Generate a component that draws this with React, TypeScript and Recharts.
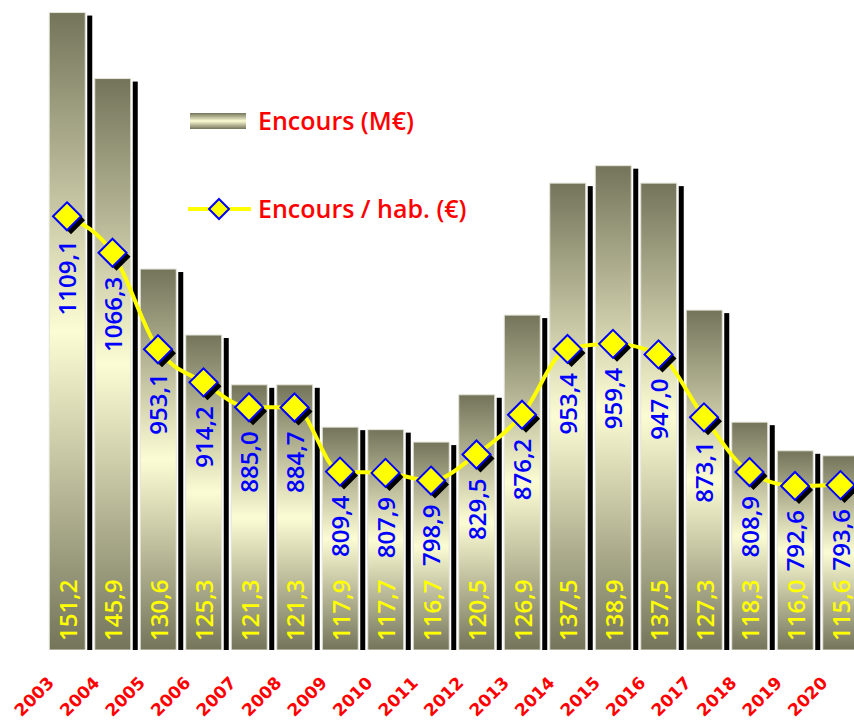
import { Bar, ComposedChart, LabelList, Line, XAxis, YAxis } from "recharts";

const years = [
  "2003", "2004", "2005", "2006", "2007", "2008", "2009", "2010", "2011",
  "2012", "2013", "2014", "2015", "2016", "2017", "2018", "2019", "2020"
];

// Encours de la dette (M€)
const encours = [
  151.2, 145.9, 130.6, 125.3, 121.3, 121.3, 117.9, 117.7, 116.7,
  120.5, 126.9, 137.5, 138.9, 137.5, 127.3, 118.3, 116.0, 115.6
];

// Encours par habitant (€)
const parHab = [
  1109.1, 1066.3, 953.1, 914.2, 885.0, 884.7, 809.4, 807.9, 798.9,
  829.5, 876.2, 953.4, 959.4, 947.0, 873.1, 808.9, 792.6, 793.6
];

const data = years.map((year, i) => ({ year, encours: encours[i], parHab: parHab[i] }));

const fmt = (v: number) => v.toFixed(1).replace(".", ",");

const numFont = "'Open Sans', 'DejaVu Sans', sans-serif";

function ShadowBar(props: any) {
  const { x, y, width, height } = props;
  if (!height || height <= 0) return null;
  return (
    <g>
      <rect x={x + width + 2} y={y + 3} width={5} height={height} fill="#000" />
      <rect x={x + 3} y={y + height + 1} width={width + 1} height={3} fill="#8c8c8c" />
      <rect x={x} y={y} width={width} height={height} fill="url(#barGrad)" stroke="#e4e4d8" strokeWidth={1} />
    </g>
  );
}

function diamondPath(cx: number, cy: number, r: number) {
  return `M${cx},${cy - r} L${cx + r},${cy} L${cx},${cy + r} L${cx - r},${cy} Z`;
}

function DiamondDot(props: any) {
  const { cx, cy } = props;
  if (cx == null || cy == null) return null;
  return (
    <g>
      <path d={diamondPath(cx + 4, cy + 4, 14)} fill="#000" />
      <path d={diamondPath(cx, cy, 14)} fill="#ffff00" stroke="#0000ff" strokeWidth={2} />
    </g>
  );
}

function BarValue(props: any) {
  const { x, y, width, height, value } = props;
  const cx = x + width / 2;
  const ty = y + height - 9;
  return (
    <text
      x={cx}
      y={ty}
      transform={`rotate(-90, ${cx}, ${ty})`}
      textAnchor="start"
      dominantBaseline="central"
      fill="#ffff00"
      fontSize={24}
      fontWeight={600}
      fontFamily={numFont}
    >
      {fmt(value)}
    </text>
  );
}

function LineValue(props: any) {
  const { x, y, value } = props;
  const ty = y + 24;
  return (
    <text
      x={x}
      y={ty}
      transform={`rotate(-90, ${x}, ${ty})`}
      textAnchor="end"
      dominantBaseline="central"
      fill="#0000ff"
      fontSize={24}
      fontWeight={600}
      fontFamily={numFont}
    >
      {fmt(value)}
    </text>
  );
}

function YearTick(props: any) {
  const { x, payload } = props;
  const tx = x - 12;
  const ty = 684;
  return (
    <text
      x={tx}
      y={ty}
      transform={`rotate(-45, ${tx}, ${ty})`}
      textAnchor="end"
      fill="#ff0000"
      fontSize={17}
      fontWeight="bold"
      fontFamily="'DejaVu Sans', sans-serif"
    >
      {payload.value}
    </text>
  );
}

function LegendBox() {
  const legendFont = "'Open Sans', sans-serif";
  return (
    <svg width={320} height={140} style={{ position: "absolute", left: 180, top: 95 }}>
      <rect x={10} y={18} width={56} height={16} fill="url(#barGrad)" />
      <text x={78} y={35} fill="#ff0000" fontSize={25} fontWeight={600} fontFamily={legendFont}>
        Encours (M€)
      </text>
      <line x1={8} y1={114} x2={71} y2={114} stroke="#ffff00" strokeWidth={4} />
      <path d={diamondPath(39, 114, 10)} fill="#ffff00" stroke="#0000ff" strokeWidth={2} />
      <text x={78} y={123} fill="#ff0000" fontSize={25} fontWeight={600} fontFamily={legendFont}>
        Encours / hab. (€)
      </text>
    </svg>
  );
}

export default function App() {
  return (
    <div
      style={{
        position: "fixed",
        left: 0,
        top: 0,
        width: 854,
        height: 724,
        overflow: "hidden",
        background: "#fff"
      }}
    >
      <svg width={0} height={0} style={{ position: "absolute" }}>
        <defs>
          <linearGradient id="barGrad" x1="0" y1="0" x2="0" y2="1">
            <stop offset="0%" stopColor="#74745b" />
            <stop offset="50%" stopColor="#fcfcd4" />
            <stop offset="100%" stopColor="#74745b" />
          </linearGradient>
        </defs>
      </svg>
      <ComposedChart
        width={880}
        height={724}
        data={data}
        margin={{ top: 2.6, right: 16.75, left: 44.25, bottom: 0 }}
      >
        <XAxis
          dataKey="year"
          height={74}
          axisLine={false}
          tickLine={false}
          interval={0}
          tick={<YearTick />}
        />
        <YAxis yAxisId="left" domain={[100, 152]} allowDataOverflow hide />
        <YAxis yAxisId="right" orientation="right" domain={[600, 1360]} allowDataOverflow hide />
        <Bar yAxisId="left" dataKey="encours" barSize={36} shape={<ShadowBar />} isAnimationActive={false}>
          <LabelList dataKey="encours" content={<BarValue />} />
        </Bar>
        <Line
          yAxisId="right"
          type="monotone"
          dataKey="parHab"
          stroke="#ffff00"
          strokeWidth={4}
          dot={<DiamondDot />}
          activeDot={false}
          isAnimationActive={false}
        >
          <LabelList dataKey="parHab" content={<LineValue />} />
        </Line>
      </ComposedChart>
      <LegendBox />
    </div>
  );
}
